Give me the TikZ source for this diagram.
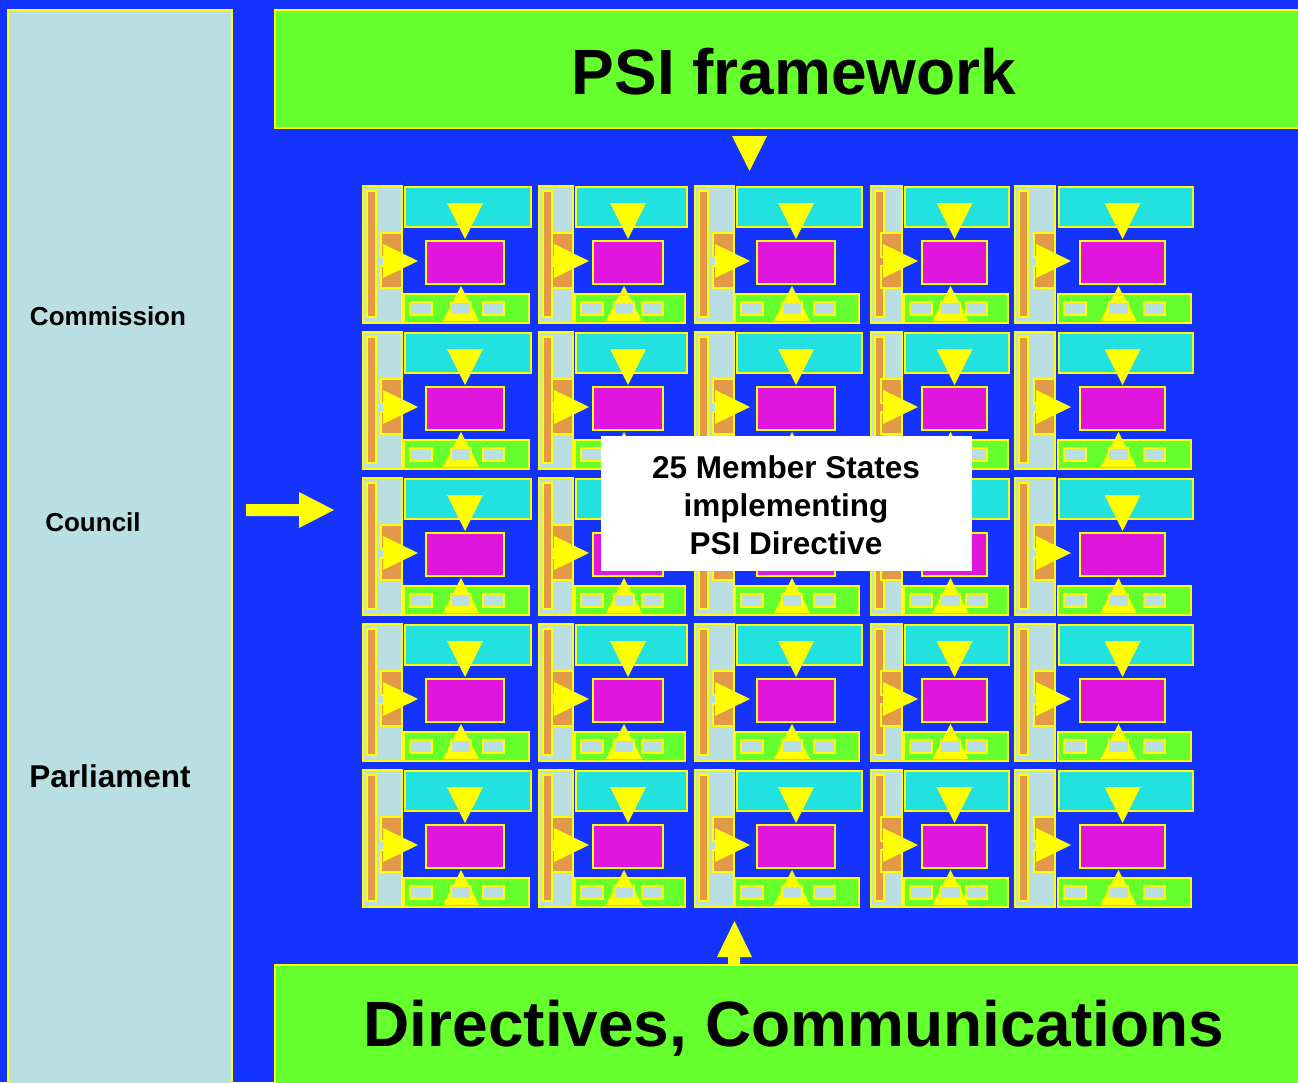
\documentclass[tikz,border=0pt]{standalone}
\usepackage{fontspec}
\setmainfont{Liberation Sans}
\definecolor{bg}{HTML}{1433FF}
\definecolor{lgreen}{HTML}{66FF2E}
\definecolor{lblue}{HTML}{BADFE2}
\definecolor{cy}{HTML}{22E2E0}
\definecolor{mag}{HTML}{E016DC}
\definecolor{org}{HTML}{E39A48}
\definecolor{yel}{HTML}{FFFF00}
\tikzset{
  bx/.style={draw=yel, line width=2pt},
  sbx/.style={draw=yel, line width=1.6pt, fill=lblue},
  tri/.style={fill=yel},
  lbl/.style={font=\bfseries\fontsize{26}{30}\selectfont, text=black, inner sep=0pt},
  big/.style={font=\bfseries\fontsize{64}{70}\selectfont, text=black, inner sep=0pt},
}
% #1 top y, #2 #3 left panel, #4 #5 cyan, #6 #7 magenta, #8 #9 green
\newcommand\tile[9]{%
  \draw[bx, fill=lblue] (#2,#1) rectangle (#3,#1+137);
  \draw[bx, line width=1.5pt, fill=org] (#2+4,#1+5) rectangle (#2+13,#1+131);
  \draw[bx, line width=1.5pt, fill=org] (#3-21,#1+47) rectangle (#3,#1+71);
  \draw[bx, line width=1.5pt, fill=org] (#3-21,#1+80) rectangle (#3,#1+102);
  \draw[bx, fill=cy] (#4,#1+1) rectangle (#5,#1+41);
  \draw[bx, fill=mag] (#6,#1+55) rectangle (#7,#1+98);
  \draw[bx, fill=lgreen] (#8,#1+108) rectangle (#9,#1+137);
  \fill[tri] ({(#6+#7)/2-18},#1+17) -- ({(#6+#7)/2+18},#1+17) -- ({(#6+#7)/2},#1+53) -- cycle;
  \fill[tri] (#3-19,#1+58) -- (#3-19,#1+92) -- (#3+16,#1+75) -- cycle;
  \fill[tri] ({(#6+#7)/2-22},#1+135) -- ({(#6+#7)/2+14},#1+135) -- ({(#6+#7)/2-4},#1+100) -- cycle;
  \draw[sbx] (#8+6,#1+116) rectangle (#8+28,#1+129);
  \draw[sbx] ({(#6+#7)/2-14},#1+116) rectangle ({(#6+#7)/2+6},#1+129);
  \draw[sbx] (#7-21,#1+116) rectangle (#7,#1+129);
}
\newcommand\tilerow[1]{%
  \tile{#1}{363}{402}{405}{531}{426}{504}{404}{529}
  \tile{#1}{539}{573}{576}{687}{593}{663}{575}{685}
  \tile{#1}{695}{734}{737}{862}{757}{835}{735}{859}
  \tile{#1}{871}{902}{905}{1009}{922}{987}{904}{1008}
  \tile{#1}{1015}{1055}{1059}{1193}{1080}{1165}{1058}{1191}
}
\begin{document}
\begin{tikzpicture}[x=1pt,y=-1pt]
  \useasboundingbox (0,0) rectangle (1298,1082);
  \clip (0,0) rectangle (1298,1082);
  \fill[bg] (0,0) rectangle (1298,1082);
  % left column
  \draw[bx, fill=lblue] (8,10) rectangle (232,1095);
  \node[lbl] (commission) at (108,316) {Commission};
  \node[lbl] (council) at (93,522) {Council};
  \node[lbl, font=\bfseries\fontsize{31.5}{34}\selectfont] (parliament) at (110,776) {Parliament};
  % top and bottom bars
  \draw[bx, fill=lgreen] (275,10) rectangle (1310,128);
  \node[big] (psi) at (794,72) {PSI framework};
  \draw[bx, fill=lgreen] (275,965) rectangle (1310,1095);
  \node[big] (dir) at (794,1028) {Directives, Communications};
  % tiles
  \tilerow{186}
  \tilerow{332}
  \tilerow{478}
  \tilerow{624}
  \tilerow{770}
  % arrows
  \fill[tri] (732,136) -- (767,136) -- (749.5,171) -- cycle;
  \fill[tri] (728,965) -- (728,957) -- (717,957) -- (734.5,921) -- (752,957) -- (740,957) -- (740,965) -- cycle;
  \fill[tri] (246,504) -- (299,504) -- (299,492) -- (334,510) -- (299,528) -- (299,516) -- (246,516) -- cycle;
  % centre label
  \node[fill=white, minimum width=371pt, minimum height=135pt, anchor=north west, inner sep=0pt] (ms) at (601,436) {};
  \node[align=center, font=\bfseries\fontsize{31.5}{38}\selectfont, inner sep=0pt] (mstext) at (786,505) {25 Member States\\implementing\\PSI Directive};
\end{tikzpicture}
\end{document}
